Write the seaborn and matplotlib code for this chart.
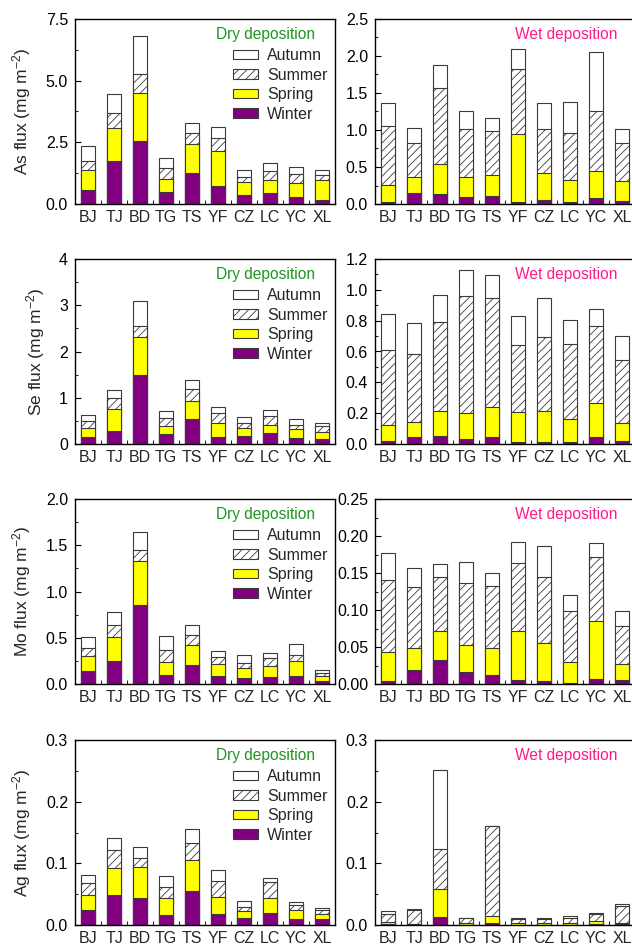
import numpy as np
import pandas as pd
import matplotlib
matplotlib.use("Agg")
import matplotlib.pyplot as plt
from matplotlib.ticker import MultipleLocator, FormatStrFormatter, FixedLocator
import seaborn as sns

sites = ["BJ", "TJ", "BD", "TG", "TS", "YF", "CZ", "LC", "YC", "XL"]
seasons = ["Winter", "Spring", "Summer", "Autumn"]

# seasonal fluxes (mg m-2): winter, spring, summer, autumn per site
as_dry_winter = [0.58, 1.73, 2.54, 0.50, 1.27, 0.74, 0.38, 0.46, 0.30, 0.18]
as_dry_spring = [0.81, 1.35, 1.98, 0.53, 1.16, 1.39, 0.50, 0.51, 0.54, 0.80]
as_dry_summer = [0.36, 0.60, 0.73, 0.43, 0.44, 0.54, 0.21, 0.37, 0.39, 0.21]
as_dry_autumn = [0.61, 0.79, 1.55, 0.40, 0.41, 0.46, 0.30, 0.32, 0.27, 0.17]

as_wet_winter = [0.03, 0.15, 0.13, 0.09, 0.11, 0.03, 0.06, 0.03, 0.08, 0.04]
as_wet_spring = [0.23, 0.21, 0.41, 0.28, 0.28, 0.92, 0.36, 0.29, 0.37, 0.27]
as_wet_summer = [0.79, 0.47, 1.03, 0.64, 0.59, 0.88, 0.59, 0.64, 0.80, 0.51]
as_wet_autumn = [0.31, 0.20, 0.31, 0.24, 0.18, 0.27, 0.35, 0.42, 0.80, 0.19]

se_dry_winter = [0.16, 0.29, 1.50, 0.21, 0.53, 0.16, 0.17, 0.23, 0.14, 0.11]
se_dry_spring = [0.19, 0.47, 0.81, 0.18, 0.40, 0.30, 0.18, 0.18, 0.18, 0.16]
se_dry_summer = [0.15, 0.24, 0.24, 0.17, 0.26, 0.21, 0.11, 0.20, 0.10, 0.11]
se_dry_autumn = [0.13, 0.17, 0.54, 0.15, 0.19, 0.14, 0.12, 0.12, 0.11, 0.07]

se_wet_winter = [0.017, 0.048, 0.052, 0.035, 0.048, 0.013, 0.013, 0.013, 0.048, 0.022]
se_wet_spring = [0.106, 0.097, 0.162, 0.164, 0.192, 0.194, 0.199, 0.149, 0.215, 0.116]
se_wet_summer = [0.487, 0.440, 0.580, 0.759, 0.705, 0.434, 0.485, 0.486, 0.501, 0.406]
se_wet_autumn = [0.234, 0.199, 0.173, 0.173, 0.149, 0.192, 0.253, 0.157, 0.112, 0.156]

mo_dry_winter = [0.144, 0.245, 0.856, 0.100, 0.209, 0.086, 0.068, 0.079, 0.086, 0.030]
mo_dry_spring = [0.162, 0.262, 0.471, 0.137, 0.215, 0.130, 0.101, 0.119, 0.159, 0.053]
mo_dry_summer = [0.084, 0.130, 0.126, 0.133, 0.108, 0.072, 0.058, 0.082, 0.068, 0.037]
mo_dry_autumn = [0.117, 0.136, 0.191, 0.144, 0.105, 0.068, 0.086, 0.055, 0.122, 0.027]

mo_wet_winter = [0.004, 0.019, 0.032, 0.016, 0.012, 0.005, 0.004, 0.002, 0.007, 0.005]
mo_wet_spring = [0.039, 0.029, 0.040, 0.037, 0.037, 0.066, 0.052, 0.028, 0.078, 0.022]
mo_wet_summer = [0.098, 0.083, 0.073, 0.083, 0.084, 0.093, 0.089, 0.069, 0.086, 0.052]
mo_wet_autumn = [0.036, 0.026, 0.017, 0.029, 0.017, 0.028, 0.041, 0.021, 0.019, 0.019]

ag_dry_winter = [0.024, 0.048, 0.043, 0.017, 0.055, 0.018, 0.011, 0.020, 0.009, 0.009]
ag_dry_spring = [0.025, 0.044, 0.051, 0.026, 0.050, 0.028, 0.012, 0.024, 0.015, 0.009]
ag_dry_summer = [0.019, 0.030, 0.015, 0.018, 0.028, 0.026, 0.007, 0.025, 0.008, 0.006]
ag_dry_autumn = [0.013, 0.019, 0.018, 0.019, 0.023, 0.018, 0.009, 0.007, 0.006, 0.004]

ag_wet_winter = [0.001, 0.0015, 0.0135, 0.0005, 0.003, 0.0005, 0.0005, 0.0005, 0.001, 0.001]
ag_wet_spring = [0.004, 0.0005, 0.0455, 0.0025, 0.012, 0.0035, 0.0025, 0.0035, 0.005, 0.003]
ag_wet_summer = [0.013, 0.023, 0.064, 0.008, 0.145, 0.006, 0.006, 0.007, 0.012, 0.027]
ag_wet_autumn = [0.005, 0.001, 0.129, 0.001, 0.0005, 0.002, 0.002, 0.003, 0.002, 0.003]

panels = [
    ("As", "dry", [as_dry_winter, as_dry_spring, as_dry_summer, as_dry_autumn], 7.5, 2.5, "%.1f"),
    ("As", "wet", [as_wet_winter, as_wet_spring, as_wet_summer, as_wet_autumn], 2.5, 0.5, "%.1f"),
    ("Se", "dry", [se_dry_winter, se_dry_spring, se_dry_summer, se_dry_autumn], 4, 1, "%d"),
    ("Se", "wet", [se_wet_winter, se_wet_spring, se_wet_summer, se_wet_autumn], 1.2, 0.2, "%.1f"),
    ("Mo", "dry", [mo_dry_winter, mo_dry_spring, mo_dry_summer, mo_dry_autumn], 2.0, 0.5, "%.1f"),
    ("Mo", "wet", [mo_wet_winter, mo_wet_spring, mo_wet_summer, mo_wet_autumn], 0.25, 0.05, "%.2f"),
    ("Ag", "dry", [ag_dry_winter, ag_dry_spring, ag_dry_summer, ag_dry_autumn], 0.3, 0.1, "%.1f"),
    ("Ag", "wet", [ag_wet_winter, ag_wet_spring, ag_wet_summer, ag_wet_autumn], 0.3, 0.1, "%.1f"),
]

sns.set_theme(style="ticks")
plt.rcParams["font.family"] = ["Liberation Sans", "DejaVu Sans"]
plt.rcParams["mathtext.fontset"] = "custom"
plt.rcParams["mathtext.rm"] = "Liberation Sans"
plt.rcParams["mathtext.it"] = "Liberation Sans:italic"
plt.rcParams["hatch.color"] = "#555555"
plt.rcParams["hatch.linewidth"] = 0.6

fig = plt.figure(figsize=(6.32, 9.47), dpi=100)
W, H = 632.0, 947.0
rows_px = [(19, 204), (259, 444), (499, 684), (740, 925)]
cols_px = [(75, 335), (375, 635)]

face = {"Winter": "#800080", "Spring": "#FFFF00", "Summer": "white", "Autumn": "white"}
hatches = {"Winter": None, "Spring": None, "Summer": "////", "Autumn": None}
edge = "#3a3a3a"
FS = 11.5

for i, (el, kind, vals, ymax, step, fmt) in enumerate(panels):
    r, c = divmod(i, 2)
    top, bot = rows_px[r]
    x0, x1 = cols_px[c]
    ax = fig.add_axes([x0 / W, 1 - bot / H, (x1 - x0) / W, (bot - top) / H])
    cum = np.cumsum(np.array(vals), axis=0)
    # draw from total down to winter (overlapping cumulative bars)
    for k in [3, 2, 1, 0]:
        s = seasons[k]
        df = pd.DataFrame({"site": sites, "flux": cum[k]})
        kw = dict(hatch=hatches[s]) if hatches[s] else {}
        sns.barplot(data=df, x="site", y="flux", order=sites, color=face[s],
                    saturation=1, edgecolor=edge, linewidth=0.8, width=0.55,
                    label=s, ax=ax, errorbar=None, **kw)
    ax.set_xlim(-0.5, 9.5)
    ax.set_ylim(0, ymax)
    ax.yaxis.set_major_locator(MultipleLocator(step))
    ax.yaxis.set_minor_locator(MultipleLocator(step / 2))
    ax.yaxis.set_major_formatter(FormatStrFormatter(fmt))
    ax.xaxis.set_minor_locator(FixedLocator(np.arange(0.5, 9.5, 1.0)))
    ax.tick_params(axis="y", which="major", direction="in", length=4, width=0.8,
                   labelsize=FS, pad=5, colors="black")
    ax.tick_params(axis="y", which="minor", direction="in", length=2, width=0.8)
    ax.tick_params(axis="x", which="major", length=0, labelsize=FS, pad=4)
    ax.tick_params(axis="x", which="minor", direction="in", length=3, width=0.8)
    for sp in ax.spines.values():
        sp.set_visible(True)
        sp.set_linewidth(1.0)
        sp.set_color("black")
    ax.set_xlabel("")
    if c == 0:
        ax.set_ylabel(el + r" flux (mg m$^{-2}$)", fontsize=12.5, labelpad=9)
        ax.text(0.543, 0.915, "Dry deposition", transform=ax.transAxes,
                color="#1E961E", fontsize=11.2, va="center", ha="left")
        handles = [ax.containers[j] for j in range(4)]
        ax.legend(handles=handles, labels=["Autumn", "Summer", "Spring", "Winter"],
                  loc="upper left", bbox_to_anchor=(0.595, 0.86), frameon=False,
                  fontsize=FS, handlelength=1.55, handleheight=0.55,
                  handletextpad=0.6, labelspacing=0.28, borderpad=0.2,
                  borderaxespad=0.0)
    else:
        ax.set_ylabel("")
        ax.text(0.538, 0.915, "Wet deposition", transform=ax.transAxes,
                color="#FF1A8C", fontsize=11.2, va="center", ha="left")
        if ax.get_legend() is not None:
            ax.get_legend().remove()

fig.savefig("out.png", dpi=100)
